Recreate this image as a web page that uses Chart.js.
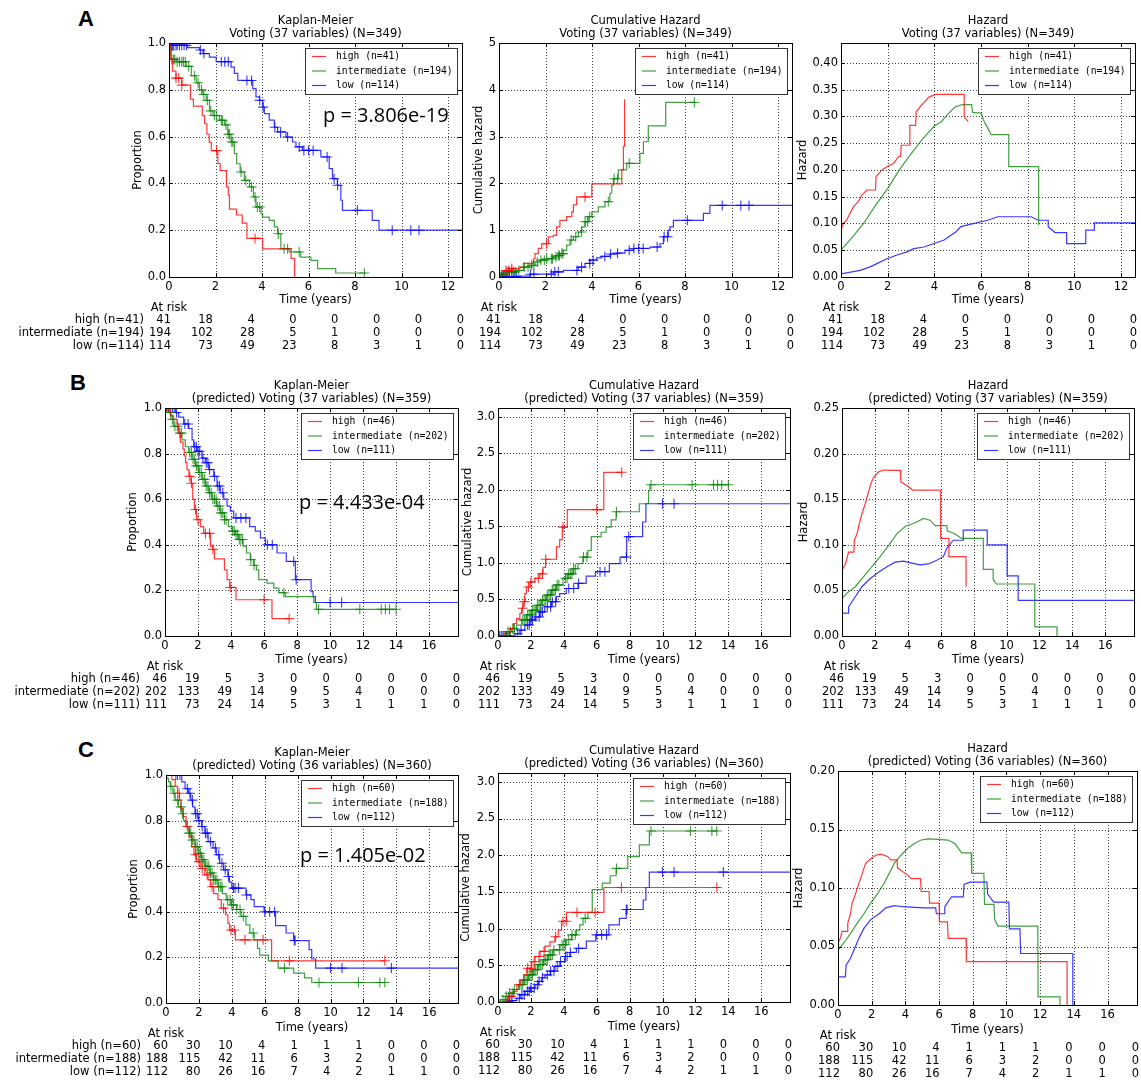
<!DOCTYPE html>
<html>
<head>
<meta charset="utf-8">
<script src="https://cdn.jsdelivr.net/npm/chart.js@4.4.1/dist/chart.umd.min.js"></script>
<style>
html, body { margin: 0; padding: 0; background: #fff; }
#fig { position: relative; width: 1141px; height: 1080px; overflow: hidden; background: #fff; }
#fig canvas { position: absolute; }
.tag { position: absolute; font: bold 22px "Liberation Sans", Arial, sans-serif; color: #000; line-height: 1; }
</style>
</head>
<body>
<div id="fig">
  <div class="tag" style="left:78px;top:8px">A</div>
  <div class="tag" style="left:70px;top:372px">B</div>
  <div class="tag" style="left:78px;top:739px">C</div>
</div>
<script>
// ---- data ----
const namesA = ['high (n=41)', 'intermediate (n=194)', 'low (n=114)'];
const namesB = ['high (n=46)', 'intermediate (n=202)', 'low (n=111)'];
const namesC = ['high (n=60)', 'intermediate (n=188)', 'low (n=112)'];

const riskA_high = [41, 18, 4, 0, 0, 0, 0, 0];
const riskA_int = [194, 102, 28, 5, 1, 0, 0, 0];
const riskA_low = [114, 73, 49, 23, 8, 3, 1, 0];
const riskB_high = [46, 19, 5, 3, 0, 0, 0, 0, 0, 0];
const riskB_int = [202, 133, 49, 14, 9, 5, 4, 0, 0, 0];
const riskB_low = [111, 73, 24, 14, 5, 3, 1, 1, 1, 0];
const riskC_high = [60, 30, 10, 4, 1, 1, 1, 0, 0, 0];
const riskC_int = [188, 115, 42, 11, 6, 3, 2, 0, 0, 0];
const riskC_low = [112, 80, 26, 16, 7, 4, 2, 1, 1, 0];

// censoring times (shared by KM and cumulative hazard of the same group)
const cenA_high = [0.3, 0.42, 0.55, 2.05, 3.7];
const cenA_int = [0.05, 0.12, 0.2, 0.25, 0.35, 0.45, 0.55, 0.62, 0.7, 0.85, 1.1, 1.25, 1.4, 1.5, 1.65, 1.8, 1.95, 2.05, 2.25, 2.3, 2.45, 2.55, 2.6, 2.7, 2.75, 3.1, 3.3, 3.55, 3.7, 3.8, 3.9, 4.7, 4.95, 5.1, 5.6, 8.4];
const cenA_low = [0.1, 0.15, 0.2, 0.3, 0.35, 0.45, 0.55, 0.65, 0.75, 1.35, 1.5, 2.25, 2.4, 2.55, 3.35, 3.55, 3.9, 4.05, 4.55, 4.8, 5.1, 5.6, 5.8, 6.0, 6.2, 6.8, 7.1, 7.25, 8.1, 9.6, 10.4, 10.75];
const cenB_high = [1.5, 1.6, 1.85, 2.0, 2.45, 2.7, 2.9, 3.95, 6.0, 7.52];
const cenB_int = [0.35, 0.45, 0.6, 0.75, 0.9, 1.0, 1.5, 1.6, 1.7, 1.8, 1.9, 2.0, 2.1, 2.2, 2.3, 2.4, 2.5, 2.6, 2.7, 2.8, 2.9, 3.0, 3.1, 3.2, 3.3, 3.4, 3.5, 3.6, 3.7, 4.1, 4.2, 4.3, 4.4, 4.5, 4.6, 4.7, 5.2, 5.4, 7.2, 9.3, 11.8, 13.1, 13.35, 13.6, 14.0];
const cenB_low = [0.1, 0.2, 0.3, 0.45, 0.55, 0.7, 1.2, 1.4, 1.8, 1.9, 2.0, 2.1, 2.3, 2.5, 2.6, 2.7, 3.0, 3.2, 3.3, 3.5, 4.3, 4.6, 4.9, 6.2, 6.5, 7.8, 7.95, 10.0, 10.7];
const cenC_high = [0.8, 1.3, 1.8, 2.0, 2.2, 2.5, 2.8, 3.5, 3.95, 4.15, 4.8, 5.9, 7.5, 13.3];
const cenC_int = [0.3, 0.5, 0.7, 0.9, 1.0, 1.4, 1.5, 1.6, 1.7, 1.8, 1.9, 2.0, 2.1, 2.2, 2.3, 2.4, 2.5, 2.6, 2.7, 2.8, 2.9, 3.0, 3.1, 3.2, 3.3, 3.4, 3.75, 3.9, 4.0, 4.1, 4.3, 4.5, 4.7, 5.3, 7.2, 9.3, 11.7, 13.0, 13.3];
const cenC_low = [0.6, 0.7, 0.85, 1.3, 1.45, 1.6, 1.8, 1.9, 2.0, 2.2, 2.4, 2.5, 2.7, 3.0, 3.2, 3.4, 3.6, 3.8, 4.1, 4.2, 4.4, 4.9, 6.0, 6.3, 6.6, 7.8, 7.85, 10.0, 10.7, 13.7];

// Kaplan-Meier, row A
const kmA_high_t = [0, 0.05, 0.15, 0.3, 0.55, 0.92, 1.05, 1.43, 1.53, 1.63, 1.73, 1.82, 2.1, 2.2, 2.47, 2.55, 2.6, 2.9, 3.15, 3.35, 4.03, 5.25, 5.4];
const kmA_high_s = [1.0, 0.93, 0.88, 0.85, 0.82, 0.76, 0.73, 0.69, 0.655, 0.61, 0.575, 0.54, 0.485, 0.455, 0.385, 0.35, 0.29, 0.265, 0.23, 0.165, 0.12, 0.08, 0.0];
const kmA_int_t = [0, 0.03, 0.1, 0.31, 0.74, 0.96, 1.17, 1.31, 1.46, 1.6, 1.74, 1.89, 2.17, 2.39, 2.53, 2.67, 2.81, 2.91, 3.06, 3.24, 3.46, 3.63, 3.74, 3.96, 4.03, 4.31, 4.53, 4.67, 4.81, 5.17, 5.67, 6.1, 6.39, 7.17, 8.46];
const kmA_int_s = [1.0, 0.97, 0.93, 0.92, 0.9, 0.86, 0.83, 0.8, 0.78, 0.755, 0.71, 0.69, 0.67, 0.65, 0.61, 0.577, 0.527, 0.484, 0.449, 0.413, 0.385, 0.342, 0.299, 0.27, 0.256, 0.242, 0.214, 0.185, 0.121, 0.107, 0.085, 0.071, 0.036, 0.017, 0.017];
const kmA_low_t = [0, 0.1, 0.8, 1.31, 1.46, 1.74, 2.03, 2.67, 2.81, 2.96, 3.6, 3.74, 3.89, 4.03, 4.1, 4.31, 4.53, 4.67, 5.03, 5.31, 5.46, 5.74, 6.53, 6.89, 7.03, 7.24, 7.39, 7.46, 8.74, 9.03, 13];
const kmA_low_s = [1.0, 0.99, 0.98, 0.97, 0.955, 0.94, 0.92, 0.897, 0.87, 0.84, 0.805, 0.77, 0.755, 0.726, 0.698, 0.67, 0.64, 0.62, 0.598, 0.577, 0.556, 0.541, 0.513, 0.463, 0.42, 0.392, 0.328, 0.285, 0.242, 0.2, 0.2];

// Cumulative hazard, row A
const chA_high_t = [0, 0.11, 0.26, 0.54, 0.9, 1.05, 1.48, 1.55, 1.69, 1.84, 2.12, 2.34, 2.48, 2.62, 2.91, 3.13, 3.2, 3.34, 3.99, 5.28, 5.35, 5.4];
const chA_high_h = [0, 0.07, 0.14, 0.18, 0.21, 0.29, 0.39, 0.5, 0.61, 0.71, 0.86, 0.89, 1.07, 1.21, 1.29, 1.39, 1.54, 1.71, 1.99, 2.29, 2.79, 3.8];
const chA_int_t = [0, 0.1, 0.33, 0.76, 1.05, 1.33, 1.55, 1.76, 2.05, 2.34, 2.48, 2.62, 2.77, 2.91, 3.05, 3.2, 3.41, 3.56, 3.7, 3.84, 3.99, 4.27, 4.56, 4.77, 4.85, 4.92, 5.13, 5.49, 6.06, 6.21, 6.42, 7.17, 8.46];
const chA_int_h = [0, 0.05, 0.11, 0.14, 0.21, 0.25, 0.32, 0.36, 0.39, 0.43, 0.46, 0.5, 0.57, 0.68, 0.79, 0.86, 0.96, 1.07, 1.18, 1.29, 1.39, 1.5, 1.61, 1.79, 1.96, 2.1, 2.29, 2.43, 2.64, 2.89, 3.23, 3.73, 3.73];
const chA_low_t = [0, 0.1, 0.8, 1.33, 2.34, 2.77, 3.41, 3.7, 3.91, 4.2, 4.42, 4.77, 5.06, 5.42, 5.78, 6.49, 6.92, 7.07, 7.28, 7.35, 7.5, 8.79, 9.07, 13];
const chA_low_h = [0, 0.01, 0.02, 0.06, 0.11, 0.14, 0.21, 0.29, 0.36, 0.41, 0.44, 0.49, 0.51, 0.57, 0.61, 0.64, 0.71, 0.86, 1.0, 1.07, 1.21, 1.36, 1.53, 1.53];

// Hazard, row A (traced outline)
const hzA_high_t = [0, 0.1, 0.24, 0.39, 0.53, 0.75, 0.89, 1.11, 1.48, 1.5, 1.76, 1.97, 2.26, 2.47, 2.56, 2.58, 2.92, 2.95, 3.2, 3.22, 3.41, 3.77, 4.06, 5.28, 5.28, 5.45];
const hzA_high_v = [0.0875, 0.1, 0.106, 0.119, 0.131, 0.141, 0.153, 0.1625, 0.1625, 0.1875, 0.2, 0.206, 0.2125, 0.225, 0.225, 0.246, 0.246, 0.283, 0.283, 0.308, 0.319, 0.336, 0.341, 0.341, 0.299, 0.29];
const hzA_int_t = [0, 0.5, 1.0, 1.5, 2.0, 2.5, 3.0, 3.5, 4.0, 4.3, 4.6, 4.9, 5.2, 5.6, 5.64, 6.0, 6.14, 6.29, 6.43, 7.19, 7.19, 8.47, 8.47];
const hzA_int_v = [0.05, 0.075, 0.102, 0.135, 0.165, 0.2, 0.23, 0.258, 0.282, 0.29, 0.305, 0.318, 0.322, 0.322, 0.3075, 0.306, 0.29, 0.278, 0.266, 0.266, 0.206, 0.206, 0.097];
const hzA_low_t = [0, 0.82, 1.25, 1.54, 1.97, 2.4, 2.83, 3.12, 3.55, 3.99, 4.42, 4.71, 4.92, 5.14, 5.71, 6.29, 6.72, 8.15, 8.45, 8.88, 8.88, 9.17, 9.67, 9.67, 10.49, 10.49, 10.86, 10.86, 12.7];
const hzA_low_v = [0.006, 0.0125, 0.019, 0.025, 0.034, 0.041, 0.047, 0.053, 0.056, 0.0625, 0.069, 0.078, 0.084, 0.094, 0.1, 0.106, 0.1125, 0.1125, 0.106, 0.106, 0.094, 0.083, 0.083, 0.0625, 0.0625, 0.0875, 0.0875, 0.101, 0.101];

// Kaplan-Meier, row B
const kmB_high_t = [0, 0.12, 0.32, 0.53, 0.73, 0.83, 0.93, 1.09, 1.17, 1.25, 1.33, 1.45, 1.58, 1.68, 1.78, 1.9, 2.14, 2.34, 2.75, 2.89, 2.99, 3.6, 3.76, 3.92, 4.3, 6.48, 7.52];
const kmB_high_s = [1.0, 0.988, 0.966, 0.95, 0.93, 0.89, 0.85, 0.82, 0.79, 0.76, 0.73, 0.70, 0.67, 0.6, 0.555, 0.51, 0.48, 0.45, 0.394, 0.38, 0.338, 0.29, 0.247, 0.213, 0.159, 0.076, 0.076];
const kmB_int_t = [0, 0.22, 0.36, 0.53, 0.83, 1.03, 1.23, 1.43, 1.64, 1.84, 2.04, 2.24, 2.44, 2.65, 2.85, 3.11, 3.35, 3.6, 3.84, 4.06, 4.26, 4.46, 4.73, 4.93, 5.17, 5.37, 5.54, 5.68, 6.18, 6.59, 6.89, 7.29, 9.01, 9.17, 14.06];
const kmB_int_s = [1.0, 0.98, 0.95, 0.92, 0.89, 0.86, 0.83, 0.805, 0.775, 0.746, 0.717, 0.687, 0.658, 0.628, 0.6, 0.57, 0.54, 0.51, 0.48, 0.46, 0.445, 0.423, 0.394, 0.364, 0.335, 0.31, 0.29, 0.247, 0.232, 0.21, 0.19, 0.173, 0.147, 0.117, 0.117];
const kmB_low_t = [0, 0.63, 0.83, 1.13, 1.43, 1.64, 1.74, 1.94, 2.24, 2.44, 2.65, 2.95, 3.15, 3.35, 3.56, 3.76, 3.96, 4.16, 5.13, 5.47, 5.78, 6.08, 6.79, 7.35, 7.9, 8.85, 8.97, 9.11, 18.5];
const kmB_low_s = [1.0, 0.98, 0.96, 0.93, 0.91, 0.86, 0.83, 0.81, 0.78, 0.76, 0.73, 0.70, 0.658, 0.628, 0.6, 0.57, 0.548, 0.518, 0.48, 0.46, 0.43, 0.4, 0.364, 0.327, 0.247, 0.195, 0.173, 0.147, 0.147];

// Cumulative hazard, row B
const chB_high_t = [0, 0.42, 0.73, 0.93, 1.13, 1.33, 1.43, 1.53, 1.63, 1.73, 1.94, 2.24, 2.54, 2.74, 2.9, 3.55, 3.75, 3.91, 4.21, 6.43, 7.55];
const chB_high_h = [0, 0.036, 0.1, 0.17, 0.24, 0.31, 0.38, 0.47, 0.58, 0.67, 0.74, 0.79, 0.85, 0.94, 1.05, 1.22, 1.32, 1.49, 1.73, 2.24, 2.24];
const chB_int_t = [0, 0.52, 0.83, 1.13, 1.43, 1.73, 2.04, 2.34, 2.64, 2.94, 3.25, 3.55, 3.95, 4.25, 4.56, 4.86, 5.16, 5.46, 5.67, 6.27, 6.57, 6.88, 7.18, 8.59, 9.15, 9.23, 14.06];
const chB_int_h = [0, 0.06, 0.1, 0.15, 0.22, 0.29, 0.35, 0.42, 0.49, 0.56, 0.63, 0.7, 0.79, 0.85, 0.92, 0.99, 1.08, 1.17, 1.36, 1.42, 1.49, 1.59, 1.7, 1.81, 1.99, 2.07, 2.07];
const chB_low_t = [0, 1.03, 1.33, 1.63, 1.94, 2.24, 2.54, 2.84, 3.25, 3.55, 3.75, 4.15, 4.86, 5.36, 5.93, 6.77, 7.42, 7.82, 8.79, 8.99, 18.5];
const chB_low_h = [0, 0.03, 0.08, 0.15, 0.22, 0.26, 0.33, 0.4, 0.47, 0.54, 0.58, 0.65, 0.72, 0.82, 0.88, 0.99, 1.08, 1.36, 1.56, 1.81, 1.81];

// Hazard, row B
const hzB_high_t = [0, 0.2, 0.3, 0.4, 0.72, 0.75, 0.91, 1.05, 1.21, 1.41, 1.58, 1.76, 1.92, 2.22, 2.53, 2.93, 3.55, 3.58, 3.94, 4.3, 6.0, 6.0, 6.5, 6.5, 7.54, 7.54];
const hzB_high_v = [0.072, 0.079, 0.085, 0.092, 0.092, 0.105, 0.112, 0.123, 0.134, 0.145, 0.156, 0.167, 0.174, 0.18, 0.182, 0.1815, 0.1815, 0.169, 0.165, 0.16, 0.16, 0.107, 0.107, 0.087, 0.087, 0.054];
const hzB_int_t = [0, 0.3, 0.81, 1.31, 1.82, 2.32, 2.83, 3.33, 3.84, 4.55, 4.95, 5.35, 5.66, 6.37, 6.4, 6.77, 7.27, 8.59, 8.59, 9.19, 9.19, 9.39, 11.72, 11.72, 13.07, 13.07];
const hzB_int_v = [0.041, 0.047, 0.054, 0.065, 0.076, 0.087, 0.099, 0.112, 0.12, 0.125, 0.129, 0.127, 0.121, 0.121, 0.115, 0.113, 0.107, 0.107, 0.073, 0.073, 0.062, 0.057, 0.057, 0.01, 0.01, 0];
const hzB_low_t = [0, 0.4, 0.4, 0.81, 1.21, 1.72, 2.22, 2.73, 3.23, 3.74, 4.24, 4.75, 5.25, 5.76, 6.16, 6.36, 6.77, 7.37, 7.37, 8.83, 8.83, 10.04, 10.04, 10.71, 10.71, 18.5];
const hzB_low_v = [0.025, 0.025, 0.032, 0.043, 0.054, 0.063, 0.07, 0.076, 0.081, 0.082, 0.08, 0.078, 0.079, 0.083, 0.087, 0.096, 0.105, 0.105, 0.116, 0.116, 0.1, 0.1, 0.066, 0.066, 0.039, 0.039];

// Kaplan-Meier, row C
const kmC_high_t = [0, 0.36, 0.56, 0.7, 0.82, 0.92, 1.06, 1.22, 1.42, 1.56, 1.7, 1.86, 2.12, 2.36, 2.56, 2.7, 2.9, 3.16, 3.36, 3.62, 3.76, 3.86, 4.22, 6.42, 13.32];
const kmC_high_s = [1.0, 0.98, 0.95, 0.92, 0.89, 0.854, 0.818, 0.774, 0.73, 0.686, 0.65, 0.62, 0.59, 0.562, 0.54, 0.51, 0.48, 0.453, 0.416, 0.387, 0.35, 0.32, 0.277, 0.185, 0.185];
const kmC_int_t = [0, 0.05, 0.16, 0.26, 0.42, 0.56, 0.76, 0.92, 1.06, 1.22, 1.4, 1.56, 1.76, 1.96, 2.16, 2.36, 2.66, 2.9, 3.16, 3.42, 3.66, 3.96, 4.3, 4.56, 4.86, 5.1, 5.36, 5.56, 5.7, 6.22, 6.82, 7.76, 8.42, 8.86, 13.36];
const kmC_int_s = [1.0, 0.985, 0.97, 0.95, 0.92, 0.89, 0.86, 0.83, 0.8, 0.774, 0.745, 0.715, 0.686, 0.657, 0.628, 0.6, 0.57, 0.54, 0.51, 0.48, 0.453, 0.43, 0.41, 0.38, 0.343, 0.307, 0.277, 0.24, 0.21, 0.185, 0.153, 0.131, 0.11, 0.09, 0.09];
const kmC_low_t = [0, 0.96, 1.16, 1.36, 1.5, 1.62, 1.76, 1.96, 2.16, 2.36, 2.56, 2.86, 3.06, 3.26, 3.5, 3.76, 3.86, 4.0, 4.86, 5.16, 5.36, 5.96, 6.66, 7.3, 7.76, 8.7, 8.86, 9.1, 18.5];
const kmC_low_s = [1.0, 0.97, 0.94, 0.92, 0.89, 0.86, 0.83, 0.8, 0.774, 0.745, 0.708, 0.68, 0.65, 0.613, 0.584, 0.555, 0.53, 0.504, 0.474, 0.453, 0.423, 0.4, 0.339, 0.307, 0.274, 0.234, 0.193, 0.153, 0.153];

// Cumulative hazard, row C
const chC_high_t = [0, 0.44, 0.64, 0.95, 1.15, 1.35, 1.55, 1.75, 2.05, 2.25, 2.56, 2.86, 3.16, 3.46, 3.66, 3.86, 4.16, 6.44, 13.5];
const chC_high_h = [0, 0.03, 0.077, 0.145, 0.236, 0.3, 0.37, 0.46, 0.55, 0.62, 0.69, 0.76, 0.82, 0.89, 0.98, 1.1, 1.22, 1.56, 1.56];
const chC_int_t = [0, 0.14, 0.44, 0.64, 0.95, 1.25, 1.55, 1.85, 2.15, 2.45, 2.76, 3.06, 3.36, 3.76, 4.16, 4.47, 4.77, 4.97, 5.17, 5.47, 5.73, 6.34, 6.82, 7.18, 7.89, 8.59, 9.2, 13.36];
const chC_int_h = [0, 0.03, 0.077, 0.12, 0.17, 0.236, 0.3, 0.37, 0.44, 0.51, 0.575, 0.64, 0.71, 0.78, 0.85, 0.915, 0.98, 1.05, 1.14, 1.22, 1.53, 1.62, 1.72, 1.82, 1.98, 2.14, 2.33, 2.33];
const chC_low_t = [0, 0.85, 1.15, 1.35, 1.65, 1.95, 2.25, 2.45, 2.66, 2.86, 3.16, 3.46, 3.76, 4.06, 4.37, 4.77, 5.37, 5.94, 6.74, 7.38, 7.79, 8.83, 8.99, 9.2, 18.5];
const chC_low_h = [0, 0.02, 0.05, 0.1, 0.145, 0.19, 0.236, 0.28, 0.33, 0.37, 0.42, 0.485, 0.55, 0.62, 0.675, 0.73, 0.83, 0.915, 1.05, 1.14, 1.26, 1.39, 1.56, 1.77, 1.77];

// Hazard, row C
const hzC_high_t = [0, 0.14, 0.24, 0.55, 0.58, 0.74, 0.84, 1.04, 1.24, 1.44, 1.64, 1.94, 2.24, 2.54, 2.94, 3.14, 3.5, 3.54, 3.84, 4.14, 4.34, 4.9, 4.94, 5.4, 5.44, 6.0, 6.02, 6.5, 6.54, 7.6, 7.62, 13.6, 13.6];
const hzC_high_v = [0.053, 0.057, 0.063, 0.063, 0.07, 0.078, 0.087, 0.095, 0.104, 0.1125, 0.121, 0.125, 0.128, 0.129, 0.127, 0.124, 0.124, 0.117, 0.114, 0.111, 0.108, 0.108, 0.097, 0.097, 0.087, 0.087, 0.071, 0.071, 0.057, 0.057, 0.037, 0.037, 0];
const hzC_int_t = [0, 0.34, 0.74, 1.14, 1.54, 1.94, 2.34, 2.74, 3.04, 3.34, 3.74, 4.14, 4.54, 4.94, 5.34, 5.94, 6.54, 6.94, 7.34, 7.9, 7.94, 8.66, 8.7, 9.26, 9.3, 9.5, 11.86, 11.88, 13.18, 13.18];
const hzC_int_v = [0.047, 0.053, 0.061, 0.07, 0.078, 0.087, 0.095, 0.104, 0.1125, 0.121, 0.128, 0.134, 0.138, 0.141, 0.142, 0.1415, 0.141, 0.138, 0.13, 0.13, 0.1125, 0.1125, 0.086, 0.086, 0.073, 0.0675, 0.0675, 0.007, 0.007, 0];
const hzC_low_t = [0, 0.44, 0.48, 0.74, 0.98, 1.24, 1.54, 1.94, 2.44, 2.84, 3.34, 3.84, 4.54, 5.14, 5.8, 5.84, 6.3, 6.34, 6.74, 7.44, 7.48, 7.84, 8.84, 8.88, 9.24, 10.14, 10.18, 10.8, 10.84, 13.94, 13.94];
const hzC_low_v = [0.024, 0.024, 0.034, 0.04, 0.048, 0.057, 0.0655, 0.073, 0.078, 0.083, 0.085, 0.084, 0.0835, 0.083, 0.083, 0.078, 0.078, 0.084, 0.0925, 0.0925, 0.103, 0.105, 0.105, 0.095, 0.088, 0.088, 0.065, 0.065, 0.044, 0.044, 0];

// ---- drawing ----
Chart.defaults.font.family = '"DejaVu Sans", sans-serif';
Chart.defaults.font.size = 11.5;
Chart.defaults.color = '#000';

const RED = 'rgba(255,0,0,0.78)';
const GREEN = 'rgba(0,128,0,0.75)';
const BLUE = 'rgba(0,0,255,0.78)';
const COLORS = [RED, GREEN, BLUE];
const fig = document.getElementById('fig');

function pts(t, v) { return t.map((x, i) => ({ x: x, y: v[i] })); }
function stepAt(t, v, x) {
  let k = 0;
  for (let i = 0; i < t.length; i++) if (t[i] <= x) k = i;
  return v[k];
}

function deco(p) {
  return {
    id: 'deco',
    beforeDatasetsDraw(chart) {
      const { ctx, chartArea: a, scales: { x, y } } = chart;
      ctx.save();
      ctx.strokeStyle = 'rgba(0,0,0,0.75)';
      ctx.lineWidth = 1;
      ctx.setLineDash([1, 2]);
      ctx.beginPath();
      x.ticks.forEach(tk => {
        const px = Math.round(x.getPixelForValue(tk.value)) + 0.5;
        ctx.moveTo(px, a.top); ctx.lineTo(px, a.bottom);
      });
      y.ticks.forEach(tk => {
        const py = Math.round(y.getPixelForValue(tk.value)) + 0.5;
        ctx.moveTo(a.left, py); ctx.lineTo(a.right, py);
      });
      ctx.stroke();
      ctx.restore();
    },
    afterDraw(chart) {
      const { ctx, chartArea: a, scales: { x, y } } = chart;
      ctx.save();
      // frame and inward ticks
      ctx.strokeStyle = '#000';
      ctx.lineWidth = 1;
      ctx.strokeRect(a.left + 0.5, a.top + 0.5, a.right - a.left, a.bottom - a.top);
      ctx.beginPath();
      x.ticks.forEach(tk => {
        const px = Math.round(x.getPixelForValue(tk.value)) + 0.5;
        ctx.moveTo(px, a.bottom); ctx.lineTo(px, a.bottom - 4);
        ctx.moveTo(px, a.top); ctx.lineTo(px, a.top + 4);
      });
      y.ticks.forEach(tk => {
        const py = Math.round(y.getPixelForValue(tk.value)) + 0.5;
        ctx.moveTo(a.left, py); ctx.lineTo(a.left + 4, py);
        ctx.moveTo(a.right, py); ctx.lineTo(a.right - 4, py);
      });
      ctx.stroke();

      // legend
      ctx.font = '9.7px "DejaVu Sans Mono", monospace';
      const mw = Math.max(...p.names.map(s => ctx.measureText(s).width));
      const bw = Math.round(31 + mw + 4), bh = 46;
      const bx = Math.round(a.right - 5 - bw), by = a.top + 5;
      ctx.fillStyle = '#fff';
      ctx.fillRect(bx, by, bw, bh);
      ctx.strokeStyle = '#333';
      ctx.strokeRect(bx + 0.5, by + 0.5, bw, bh);
      ctx.textBaseline = 'middle';
      ctx.textAlign = 'left';
      p.names.forEach((s, i) => {
        const yy = by + 8.5 + i * 14.5;
        ctx.strokeStyle = COLORS[i];
        ctx.lineWidth = 1.2;
        ctx.beginPath(); ctx.moveTo(bx + 7, yy); ctx.lineTo(bx + 21, yy); ctx.stroke();
        ctx.fillStyle = '#000';
        ctx.fillText(s, bx + 31, yy);
      });

      // title
      ctx.font = '11.5px "DejaVu Sans", sans-serif';
      ctx.textAlign = 'center';
      const cx = (a.left + a.right) / 2;
      ctx.fillText(p.title[0], cx, a.top - 21.5);
      ctx.fillText(p.title[1], cx, a.top - 8.5);

      // at risk table
      ctx.fillText('At risk', a.left, a.bottom + 31);
      ctx.textAlign = 'right';
      p.risk.forEach((row, i) => {
        const yy = a.bottom + 43 + i * 13;
        if (p.riskLabels) ctx.fillText(p.names[i], a.left - 25, yy);
        row.forEach((n, j) => {
          ctx.fillText(String(n), a.left + j * (a.right - a.left) / (row.length - 1) + 2, yy);
        });
      });

      // p-value
      if (p.pText) {
        ctx.font = '20px "Open Sans", sans-serif';
        ctx.textAlign = 'left';
        ctx.fillText(p.pText, a.left + p.pOff[0], a.top + p.pOff[1]);
      }
      ctx.restore();
    }
  };
}

function panel(p) {
  const [l, t, r, b] = p.box;
  const yW = l - p.yLabX + 6.9;
  const xH = p.xGap + 6.9;
  const cl = p.riskLabels ? 0 : Math.floor(l - yW - 6);
  const padL = l - yW - cl;
  const padT = 36;
  const padR0 = Math.min(12, 1141 - r);
  const W = Math.ceil(padL + yW + (r - l) + padR0);
  const padR = W - (padL + yW + (r - l));
  const H = Math.ceil(padT + (b - t) + xH + 80);
  const padB = H - (padT + (b - t) + xH);

  const cv = document.createElement('canvas');
  cv.width = W; cv.height = H;
  cv.style.left = cl + 'px';
  cv.style.top = (t - padT) + 'px';
  fig.appendChild(cv);

  const datasets = [];
  p.lines.forEach((ln, i) => {
    datasets.push({
      data: pts(ln[0], ln[1]), showLine: true, stepped: p.step ? 'before' : false,
      borderColor: COLORS[i], borderWidth: 1.2, pointRadius: 0, pointHoverRadius: 0, fill: false
    });
  });
  (p.cens || []).forEach((c, i) => {
    const ln = p.lines[i];
    datasets.push({
      data: c.map(v => ({ x: v, y: stepAt(ln[0], ln[1], v) })), showLine: false,
      pointStyle: 'cross', pointRadius: 5, pointHoverRadius: 5,
      pointBorderColor: COLORS[i], pointBorderWidth: 1.1, borderColor: COLORS[i]
    });
  });

  new Chart(cv, {
    type: 'scatter',
    data: { datasets },
    options: {
      responsive: false, animation: false, devicePixelRatio: 1,
      events: [],
      layout: { padding: { left: padL, top: padT, right: padR, bottom: padB } },
      plugins: { legend: { display: false }, tooltip: { enabled: false } },
      scales: {
        x: {
          type: 'linear', min: 0, max: p.xMax,
          grid: { display: false, drawTicks: false }, border: { display: false },
          ticks: { stepSize: 2, includeBounds: false, padding: 3, maxRotation: 0, autoSkip: false, callback: v => String(v) },
          title: { display: true, text: 'Time (years)', padding: 0 },
          afterFit: s => { s.height = xH; }
        },
        y: {
          type: 'linear', min: 0, max: p.yMax,
          grid: { display: false, drawTicks: false }, border: { display: false },
          ticks: { stepSize: p.yStep, includeBounds: false, padding: 3, autoSkip: false, callback: v => v.toFixed(p.yDec) },
          title: { display: true, text: p.yLabel, padding: 0 },
          afterFit: s => { s.width = yW; }
        }
      }
    },
    plugins: [deco(p)]
  });
}

const tA = 'Voting (37 variables) (N=349)';
const tB = '(predicted) Voting (37 variables) (N=359)';
const tC = '(predicted) Voting (36 variables) (N=360)';

// row A
panel({ box: [169, 43, 462, 277], xMax: 12.6, yMax: 1.0, yStep: 0.2, yDec: 1, yLabel: 'Proportion', yLabX: 138, xGap: 23,
  title: ['Kaplan-Meier', tA], names: namesA, step: true, riskLabels: true,
  lines: [[kmA_high_t, kmA_high_s], [kmA_int_t, kmA_int_s], [kmA_low_t, kmA_low_s]],
  cens: [cenA_high, cenA_int, cenA_low], risk: [riskA_high, riskA_int, riskA_low],
  pText: 'p = 3.806e-19', pOff: [154, 73] });
panel({ box: [499, 43, 792, 277], xMax: 12.6, yMax: 5, yStep: 1, yDec: 0, yLabel: 'Cumulative hazard', yLabX: 479, xGap: 23,
  title: ['Cumulative Hazard', tA], names: namesA, step: true,
  lines: [[chA_high_t, chA_high_h], [chA_int_t, chA_int_h], [chA_low_t, chA_low_h]],
  cens: [cenA_high, cenA_int, cenA_low], risk: [riskA_high, riskA_int, riskA_low] });
panel({ box: [841, 43, 1135, 277], xMax: 12.6, yMax: 0.437, yStep: 0.05, yDec: 2, yLabel: 'Hazard', yLabX: 803, xGap: 23,
  title: ['Hazard', tA], names: namesA, step: false,
  lines: [[hzA_high_t, hzA_high_v], [hzA_int_t, hzA_int_v], [hzA_low_t, hzA_low_v]],
  risk: [riskA_high, riskA_int, riskA_low] });

// row B
panel({ box: [165, 408, 458, 636], xMax: 17.75, yMax: 1.0, yStep: 0.2, yDec: 1, yLabel: 'Proportion', yLabX: 133, xGap: 24,
  title: ['Kaplan-Meier', tB], names: namesB, step: true, riskLabels: true,
  lines: [[kmB_high_t, kmB_high_s], [kmB_int_t, kmB_int_s], [kmB_low_t, kmB_low_s]],
  cens: [cenB_high, cenB_int, cenB_low], risk: [riskB_high, riskB_int, riskB_low],
  pText: 'p = 4.433e-04', pOff: [134, 95] });
panel({ box: [498, 408, 790, 636], xMax: 17.75, yMax: 3.12, yStep: 0.5, yDec: 1, yLabel: 'Cumulative hazard', yLabX: 468, xGap: 24,
  title: ['Cumulative Hazard', tB], names: namesB, step: true,
  lines: [[chB_high_t, chB_high_h], [chB_int_t, chB_int_h], [chB_low_t, chB_low_h]],
  cens: [cenB_high, cenB_int, cenB_low], risk: [riskB_high, riskB_int, riskB_low] });
panel({ box: [842, 408, 1134, 636], xMax: 17.75, yMax: 0.25, yStep: 0.05, yDec: 2, yLabel: 'Hazard', yLabX: 804, xGap: 24,
  title: ['Hazard', tB], names: namesB, step: false,
  lines: [[hzB_high_t, hzB_high_v], [hzB_int_t, hzB_int_v], [hzB_low_t, hzB_low_v]],
  risk: [riskB_high, riskB_int, riskB_low] });

// row C
panel({ box: [166, 775, 458, 1003], xMax: 17.75, yMax: 1.0, yStep: 0.2, yDec: 1, yLabel: 'Proportion', yLabX: 134, xGap: 25,
  title: ['Kaplan-Meier', tC], names: namesC, step: true, riskLabels: true,
  lines: [[kmC_high_t, kmC_high_s], [kmC_int_t, kmC_int_s], [kmC_low_t, kmC_low_s]],
  cens: [cenC_high, cenC_int, cenC_low], risk: [riskC_high, riskC_int, riskC_low],
  pText: 'p = 1.405e-02', pOff: [134, 81] });
panel({ box: [498, 773, 790, 1002], xMax: 17.75, yMax: 3.12, yStep: 0.5, yDec: 1, yLabel: 'Cumulative hazard', yLabX: 466, xGap: 25,
  title: ['Cumulative Hazard', tC], names: namesC, step: true,
  lines: [[chC_high_t, chC_high_h], [chC_int_t, chC_int_h], [chC_low_t, chC_low_h]],
  cens: [cenC_high, cenC_int, cenC_low], risk: [riskC_high, riskC_int, riskC_low] });
panel({ box: [838, 771, 1137, 1005], xMax: 17.75, yMax: 0.2, yStep: 0.05, yDec: 2, yLabel: 'Hazard', yLabX: 799, xGap: 25,
  title: ['Hazard', tC], names: namesC, step: false,
  lines: [[hzC_high_t, hzC_high_v], [hzC_int_t, hzC_int_v], [hzC_low_t, hzC_low_v]],
  risk: [riskC_high, riskC_int, riskC_low] });
</script>
</body>
</html>
